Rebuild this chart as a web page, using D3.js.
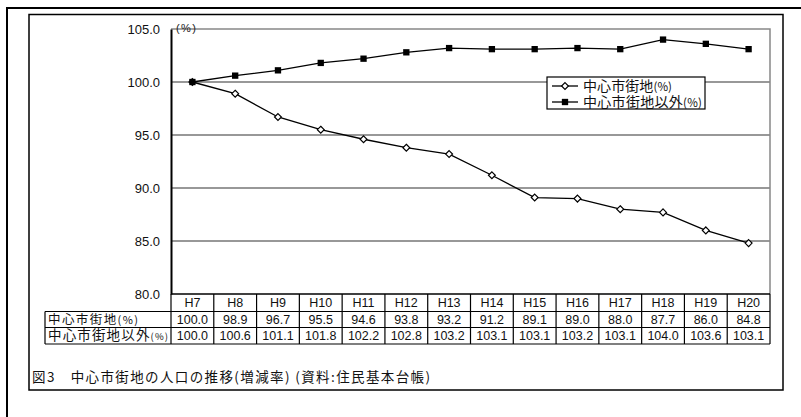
<html>
<head>
<meta charset="utf-8">
<script src="https://d3js.org/d3.v7.min.js"></script>
<style>
  body { margin: 0; background: #fff; }
  text { font-family: "Liberation Sans", Arial, "Noto Sans CJK JP", sans-serif; }
  .jp { font-family: "Noto Sans CJK JP", "Liberation Sans", sans-serif; }
</style>
</head>
<body>
<svg id="chart" width="801" height="417"></svg>
<script>
var years = ["H7", "H8", "H9", "H10", "H11", "H12", "H13", "H14", "H15", "H16", "H17", "H18", "H19", "H20"];
var center = [100.0, 98.9, 96.7, 95.5, 94.6, 93.8, 93.2, 91.2, 89.1, 89.0, 88.0, 87.7, 86.0, 84.8];
var outside = [100.0, 100.6, 101.1, 101.8, 102.2, 102.8, 103.2, 103.1, 103.1, 103.2, 103.1, 104.0, 103.6, 103.1];
var seriesNames = ["中心市街地", "中心市街地以外"];
var yTicks = [80, 85, 90, 95, 100, 105];
var caption = "図3　中心市街地の人口の推移(増減率) (資料:住民基本台帳)";

var svg = d3.select("#chart");

// plot area bounds
var pLeft = 171, pRight = 770, pTop = 29, pBottom = 294;

var x = d3.scaleBand().domain(years).range([pLeft, pRight]);
var y = d3.scaleLinear().domain([80, 105]).range([pBottom, pTop]);

// outer and inner frames
svg.append("rect").attr("x", 7).attr("y", 8).attr("width", 820).attr("height", 440)
  .attr("fill", "none").attr("stroke", "#000").attr("stroke-width", 2);
svg.append("rect").attr("x", 29).attr("y", 14.5).attr("width", 754).attr("height", 375.5)
  .attr("fill", "#fff").attr("stroke", "#000").attr("stroke-width", 1.5);

// gridlines
svg.selectAll("line.grid")
  .data(yTicks.filter(function(d) { return d > 80 && d < 105; }))
  .enter().append("line")
  .attr("x1", pLeft).attr("x2", pRight)
  .attr("y1", function(d) { return y(d); }).attr("y2", function(d) { return y(d); })
  .attr("stroke", "#333").attr("stroke-width", 1.2);

// plot border top / right (grey)
svg.append("path")
  .attr("d", "M" + pLeft + "," + y(105) + "H" + pRight + "V" + pBottom)
  .attr("fill", "none").attr("stroke", "#888").attr("stroke-width", 1.5);

// y axis
var yAxis = d3.axisLeft(y).tickValues(yTicks).tickSize(0).tickPadding(11)
  .tickFormat(d3.format(".1f"));
var ga = svg.append("g").attr("transform", "translate(" + pLeft + ",0)").call(yAxis);
ga.select(".domain").attr("stroke", "#000").attr("stroke-width", 2);
ga.selectAll("text").attr("font-size", 13).attr("fill", "#111")
  .attr("font-family", "Liberation Sans, Arial, sans-serif");

svg.append("text").attr("x", pLeft + 5).attr("y", 32).attr("font-size", 11)
  .attr("fill", "#222").attr("textLength", 20).attr("lengthAdjust", "spacing").text("(%)");

// lines
var line = d3.line()
  .x(function(d, i) { return x(years[i]) + x.bandwidth() / 2; })
  .y(function(d) { return y(d); });

svg.append("path").datum(outside).attr("d", line)
  .attr("fill", "none").attr("stroke", "#000").attr("stroke-width", 1.3);
svg.append("path").datum(center).attr("d", line)
  .attr("fill", "none").attr("stroke", "#000").attr("stroke-width", 1.3);

var diamond = d3.symbol().type(d3.symbolDiamond2).size(30);
var square = d3.symbol().type(d3.symbolSquare).size(40);

svg.selectAll("path.ctr").data(center).enter().append("path")
  .attr("class", "ctr").attr("d", diamond)
  .attr("transform", function(d, i) { return "translate(" + (x(years[i]) + x.bandwidth() / 2) + "," + y(d) + ")"; })
  .attr("fill", "#fff").attr("stroke", "#000").attr("stroke-width", 1.2);

svg.selectAll("path.out").data(outside).enter().append("path")
  .attr("class", "out").attr("d", square)
  .attr("transform", function(d, i) { return "translate(" + (x(years[i]) + x.bandwidth() / 2) + "," + y(d) + ")"; })
  .attr("fill", "#000");

// legend
var legendLen = [89, 119];
var lg = svg.append("g").attr("transform", "translate(547,77)");
lg.append("rect").attr("width", 158).attr("height", 32)
  .attr("fill", "#fff").attr("stroke", "#000").attr("stroke-width", 1.2);
seriesNames.forEach(function(name, i) {
  var yy = 9 + i * 16;
  lg.append("line").attr("x1", 5).attr("x2", 31).attr("y1", yy).attr("y2", yy)
    .attr("stroke", "#000").attr("stroke-width", 1.3);
  lg.append("path").attr("d", i === 0 ? diamond : square)
    .attr("transform", "translate(18," + yy + ")")
    .attr("fill", i === 0 ? "#fff" : "#000").attr("stroke", "#000").attr("stroke-width", i === 0 ? 1.2 : 0);
  var t = lg.append("text").attr("class", "jp").attr("x", 36).attr("y", yy + 5)
    .attr("font-size", 14).attr("fill", "#111")
    .attr("textLength", legendLen[i]).attr("lengthAdjust", "spacing").text(name);
  t.append("tspan").attr("font-size", 11.5).text("(%)");
});

// data table
var rowTop = [294, 311.5, 327.5, 344];
var tableLeft = 45;
var labelLen = [90, 120];
var tbl = svg.append("g");

tbl.append("line").attr("x1", pLeft).attr("x2", pRight).attr("y1", rowTop[0]).attr("y2", rowTop[0])
  .attr("stroke", "#000").attr("stroke-width", 1.5);
[1, 2, 3].forEach(function(r) {
  tbl.append("line").attr("x1", tableLeft).attr("x2", pRight).attr("y1", rowTop[r]).attr("y2", rowTop[r])
    .attr("stroke", "#000").attr("stroke-width", 1.2);
});
var bounds = years.map(function(d) { return x(d); }).concat([pRight]);
tbl.selectAll("line.v").data(bounds).enter().append("line")
  .attr("x1", function(d) { return d; }).attr("x2", function(d) { return d; })
  .attr("y1", rowTop[0]).attr("y2", rowTop[3])
  .attr("stroke", "#000").attr("stroke-width", 1.2);
tbl.append("line").attr("x1", tableLeft).attr("x2", tableLeft).attr("y1", rowTop[1]).attr("y2", rowTop[3])
  .attr("stroke", "#000").attr("stroke-width", 1.2);

tbl.selectAll("text.hd").data(years).enter().append("text")
  .attr("x", function(d) { return x(d) + x.bandwidth() / 2; })
  .attr("y", rowTop[0] + 13).attr("text-anchor", "middle")
  .attr("font-size", 12.5).attr("fill", "#111").text(function(d) { return d; });

[center, outside].forEach(function(vals, r) {
  tbl.selectAll("text.r" + r).data(vals).enter().append("text")
    .attr("x", function(d, i) { return x(years[i]) + x.bandwidth() / 2; })
    .attr("y", rowTop[r + 1] + 12.5).attr("text-anchor", "middle")
    .attr("font-size", 12.5).attr("fill", "#111").text(function(d) { return d.toFixed(1); });
  var lab = tbl.append("text").attr("class", "jp").attr("x", tableLeft + 3).attr("y", rowTop[r + 1] + 12.5)
    .attr("font-size", r === 0 ? 12.5 : 13.5).attr("fill", "#111")
    .attr("textLength", labelLen[r]).attr("lengthAdjust", "spacing").text(seriesNames[r]);
  lab.append("tspan").attr("font-size", r === 0 ? 11 : 9.5).text("(%)");
});

// caption
svg.append("text").attr("class", "jp").attr("x", 32).attr("y", 382)
  .attr("font-size", 13.5).attr("fill", "#111")
  .attr("textLength", 398).attr("lengthAdjust", "spacing").text(caption);
</script>
</body>
</html>
